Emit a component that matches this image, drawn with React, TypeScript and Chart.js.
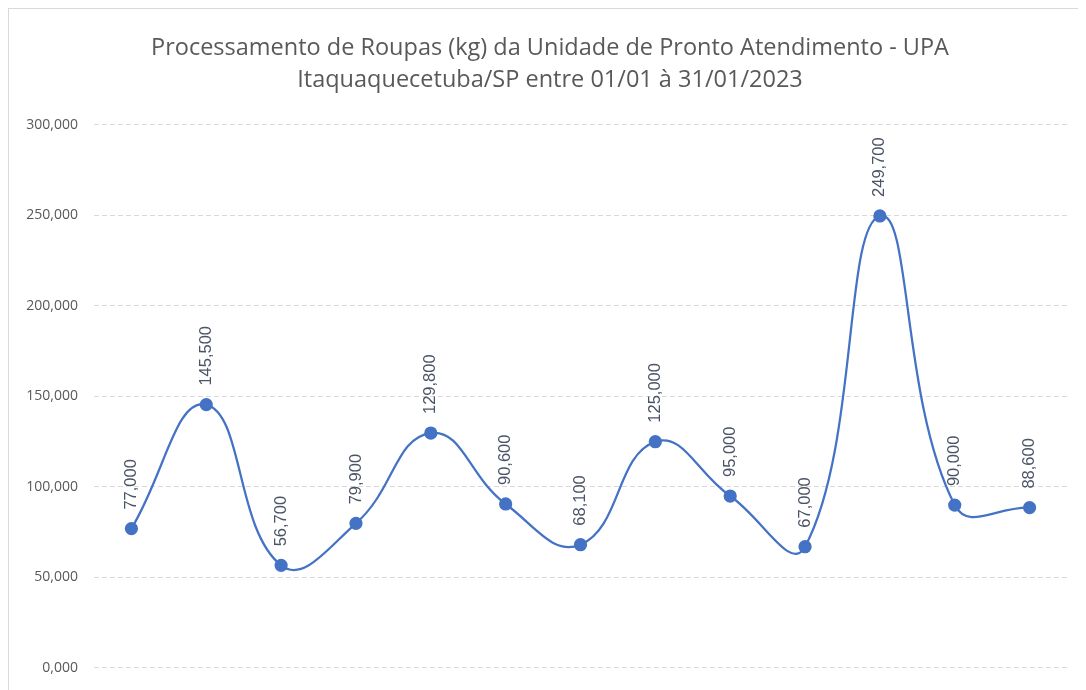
import React, { useEffect, useRef } from "react";
import { Chart, registerables } from "chart.js";

Chart.register(...registerables);

const categories = ["1", "2", "3", "4", "5", "6", "7", "8", "9", "10", "11", "12", "13"];
const values = [77.0, 145.5, 56.7, 79.9, 129.8, 90.6, 68.1, 125.0, 95.0, 67.0, 249.7, 90.0, 88.6];
const titleLines = [
  "Processamento de Roupas (kg) da Unidade de Pronto Atendimento - UPA",
  "Itaquaquecetuba/SP entre 01/01 à 31/01/2023",
];
const yMin = 0;
const yMax = 300;
const yStep = 50;

const fmt = (v: number) => v.toFixed(3).replace(".", ",");

const labelPlugin = {
  id: "rotLabels",
  afterLayout(chart: any) {
    const tb = chart.titleBlock;
    if (tb) {
      tb.left += 12;
      tb.right += 12;
    }
  },
  afterDatasetsDraw(chart: any) {
    const ctx = chart.ctx;
    const meta = chart.getDatasetMeta(0);
    const ds = chart.data.datasets[0];
    ctx.save();
    ctx.fillStyle = "#4a5466";
    ctx.font = "16.5px 'Liberation Sans', Arial, sans-serif";
    ctx.textAlign = "left";
    ctx.textBaseline = "middle";
    meta.data.forEach((pt: any, i: number) => {
      ctx.save();
      ctx.translate(pt.x, pt.y - 19);
      ctx.rotate(-Math.PI / 2);
      ctx.fillText(fmt(ds.data[i] as number), 0, 0);
      ctx.restore();
    });
    ctx.restore();
  },
};

export default function App() {
  const ref = useRef<HTMLCanvasElement | null>(null);
  useEffect(() => {
    if (!ref.current) return;
    const chart = new Chart(ref.current, {
      type: "line",
      data: {
        labels: categories,
        datasets: [
          {
            data: values,
            borderColor: "#4472C4",
            backgroundColor: "#4472C4",
            borderWidth: 2.25,
            pointRadius: 5.5,
            pointHoverRadius: 5.5,
            pointBackgroundColor: "#4472C4",
            pointBorderColor: "#4472C4",
            tension: 0.45,
            fill: false,
          },
        ],
      },
      options: {
        animation: false,
        responsive: false,
        events: [],
        layout: { padding: { left: 0, right: 12, top: 0, bottom: 41 } },
        plugins: {
          legend: { display: false },
          tooltip: { enabled: false },
          title: {
            display: true,
            text: titleLines,
            color: "#595959",
            font: { family: "'Open Sans', sans-serif", size: 23.5, weight: "normal", lineHeight: 1.36 },
            padding: { top: 23, bottom: 29 },
          },
        },
        scales: {
          x: {
            type: "category",
            offset: true,
            display: false,
          },
          y: {
            min: yMin,
            max: yMax,
            afterFit(scale: any) {
              scale.width = 85;
            },
            ticks: {
              stepSize: yStep,
              color: "#595959",
              padding: 16,
              font: { family: "'Open Sans', sans-serif", size: 14 },
              callback: (v: any) => fmt(Number(v)),
            },
            border: { display: false, dash: [5, 3] },
            grid: {
              color: "#d9d9d9",
              lineWidth: 1,
              drawTicks: false,
            },
          },
        },
      },
      plugins: [labelPlugin],
    } as any);
    return () => chart.destroy();
  }, []);
  return (
    <div style={{ width: 1070, height: 700, border: "1px solid #d9d9d9", background: "#fff" }}>
      <canvas ref={ref} width={1070} height={700} style={{ display: "block" }} />
    </div>
  );
}
